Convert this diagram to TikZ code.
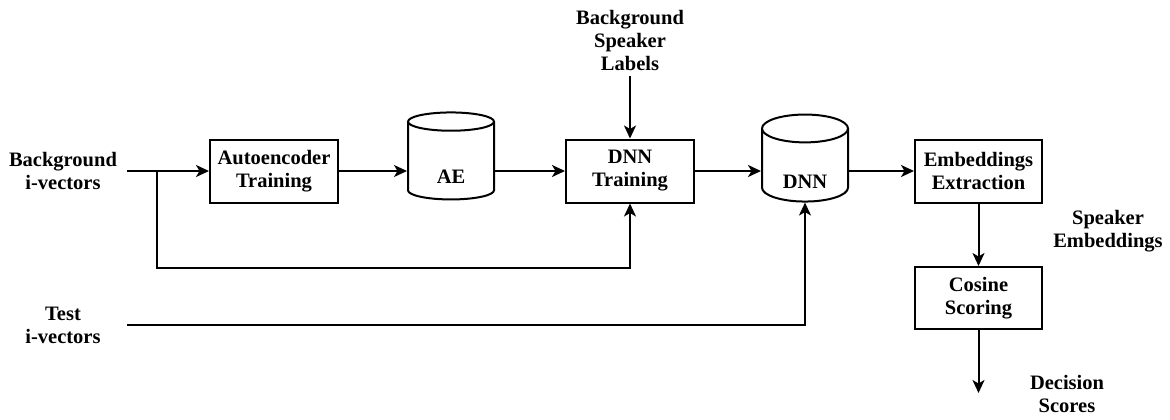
\documentclass[tikz,border=0pt]{standalone}
\usepackage{fontspec}
\setmainfont{Liberation Serif}
\usepackage{tikz}
\usetikzlibrary{arrows.meta, shapes.geometric}

\begin{document}
\begin{tikzpicture}[x=1pt, y=-1pt, every node/.style={font=\fontsize{20.5}{23}\selectfont\bfseries},
		box/.style={draw, line width=2pt, minimum width=128pt, minimum height=63pt, align=center, inner sep=2pt},
		store/.style={cylinder, shape border rotate=90, draw, line width=2pt, aspect=0.6, minimum width=86pt, minimum height=87pt, inner sep=1pt, text height=42pt, text depth=0pt},
		src/.style={align=center, text width=112pt, inner sep=8pt},
		lbl/.style={align=center, inner sep=6pt},
		flow/.style={line width=2pt, -{Stealth[length=13pt, width=12pt, inset=3.5pt]}}]
		
		\useasboundingbox (0,0) rectangle (1170,420);
		
		% Inputs
		\node[src] (bgin) at (63,171) {Background\\i-vectors};
		\node[src] (testin) at (63,325) {Test\\i-vectors};
		\node[lbl] (spklab) at (630,40) {Background\\Speaker\\Labels};
		
		% Training chain
		\node[box] (aetrain) at (274,171) {Autoencoder\\Training};
		\node[store] (ae) at (451,162) {AE};
		\node[box] (dnntrain) at (630,171) {DNN\\Training};
		\node[store] (dnn) at (805,167) {DNN};
		
		% Back end
		\node[box, minimum width=127pt] (embext) at (978.5,171) {Embeddings\\Extraction};
		\node[box, minimum width=127pt, minimum height=62pt] (cosine) at (978.5,298) {Cosine\\Scoring};
		\node[lbl] (spkemb) at (1108,231) {Speaker\\Embeddings};
		\node[lbl] (decsc) at (1067,394) {Decision\\Scores};
		
		% Helper points
		\coordinate (split) at (157,171);
		\coordinate (loop) at (157,268);
		\coordinate (decend) at (978.5,393);
		
		% Connectors
		\draw[flow] (bgin.east) -- (aetrain.west);
		\draw[flow] (aetrain.east) -- (aetrain.east -| ae.west);
		\draw[flow] (ae.east |- dnntrain.west) -- (dnntrain.west);
		\draw[flow] (spklab.south) -- (dnntrain.north);
		\draw[flow] (split) -- (loop) -| (dnntrain.south);
		\draw[flow] (dnntrain.east) -- (dnntrain.east -| dnn.west);
		\draw[flow] (dnn.east |- embext.west) -- (embext.west);
		\draw[flow] (testin.east) -| (dnn.south);
		\draw[flow] (embext.south) -- (cosine.north);
		\draw[flow] (cosine.south) -- (decend);
		
	\end{tikzpicture}
\end{document}
